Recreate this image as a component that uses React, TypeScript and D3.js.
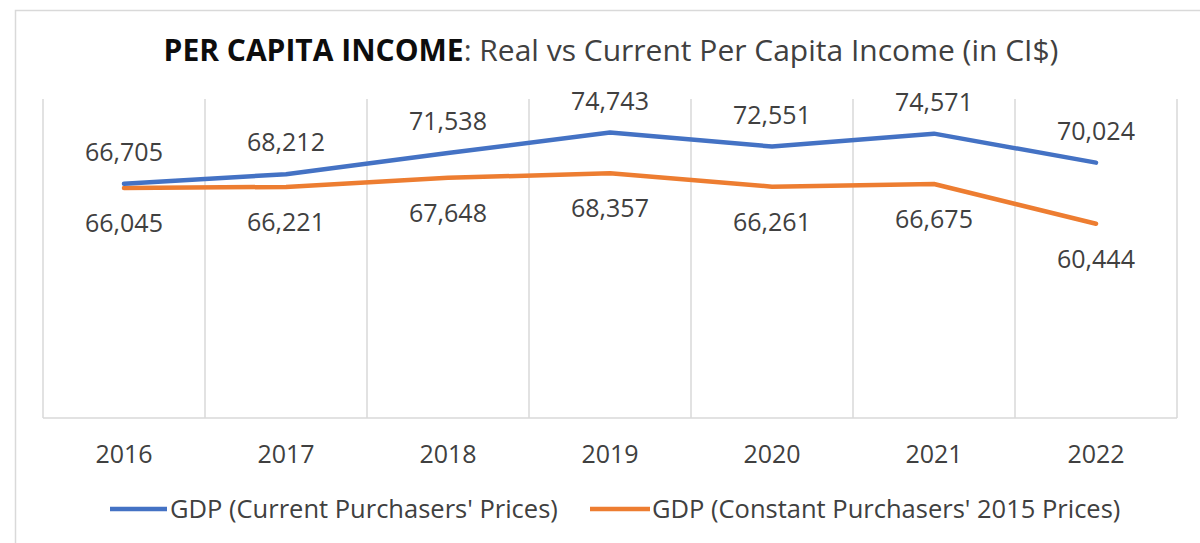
import { scaleBand, scaleLinear, line, format } from 'd3';

const years = ['2016', '2017', '2018', '2019', '2020', '2021', '2022'];
const currentPrices = [66705, 68212, 71538, 74743, 72551, 74571, 70024];
const constantPrices = [66045, 66221, 67648, 68357, 66261, 66675, 60444];
const seriesNames = ["GDP (Current Purchasers' Prices)", "GDP (Constant Purchasers' 2015 Prices)"];

const width = 1200;
const height = 543;
const plot = { left: 43, right: 1177, top: 99, bottom: 418 };
const blue = '#4472C4';
const orange = '#ED7D31';
const grid = '#d9d9d9';
const textColor = '#404040';
const font = "'Open Sans', sans-serif";

const App = () => {
    const xScale = scaleBand()
        .domain(years)
        .range([plot.left, plot.right]);

    const yScale = scaleLinear()
        .domain([30000, 80000])
        .range([plot.bottom, plot.top]);

    const cx = (year: string) => (xScale(year) as number) + xScale.bandwidth() / 2;
    const fmt = format(',');

    const makeLine = line<number>()
        .x((d, i) => cx(years[i]))
        .y(d => yScale(d));

    const gridXs = [...years.map(y => xScale(y) as number), plot.right];

    return (
        <svg
            width={width}
            height={height}
            style={{ position: 'absolute', left: 0, top: 0, background: '#fff' }}
            fontFamily={font}
        >
            <path d={`M15.5,${height} V10.5 H${width}`} fill="none" stroke={grid} strokeWidth={1.5} />

            <text x={611} y={61} textAnchor="middle" fontSize={30} fill={textColor}>
                <tspan fontWeight="bold" fill="#0d0d0d">PER CAPITA INCOME</tspan>
                <tspan>: Real vs Current Per Capita Income (in CI$)</tspan>
            </text>

            {gridXs.map((x, i) =>
                <line key={i} x1={x} x2={x} y1={plot.top} y2={plot.bottom} stroke={grid} strokeWidth={1.5} />
            )}
            <line x1={plot.left} x2={plot.right} y1={plot.bottom} y2={plot.bottom} stroke={grid} strokeWidth={1.5} />

            <path d={makeLine(constantPrices) || ''} fill="none" stroke={orange} strokeWidth={4.5} strokeLinejoin="round" strokeLinecap="round" />
            <path d={makeLine(currentPrices) || ''} fill="none" stroke={blue} strokeWidth={4.5} strokeLinejoin="round" strokeLinecap="round" />

            {currentPrices.map((v, i) =>
                <text key={'c' + i} x={cx(years[i])} y={yScale(v) - 32 + 9} textAnchor="middle" fontSize={25} fill={textColor}>{fmt(v)}</text>
            )}
            {constantPrices.map((v, i) =>
                <text key={'k' + i} x={cx(years[i])} y={yScale(v) + 35 + 9} textAnchor="middle" fontSize={25} fill={textColor}>{fmt(v)}</text>
            )}

            {years.map(y =>
                <text key={y} x={cx(y)} y={463} textAnchor="middle" fontSize={25} fill={textColor}>{y}</text>
            )}

            <g>
                <line x1={110} x2={167} y1={509} y2={509} stroke={blue} strokeWidth={4.5} />
                <text x={170} y={518} fontSize={25.5} fill={textColor}>{seriesNames[0]}</text>
                <line x1={590} x2={650} y1={509} y2={509} stroke={orange} strokeWidth={4.5} />
                <text x={652} y={518} fontSize={25.5} fill={textColor}>{seriesNames[1]}</text>
            </g>
        </svg>
    );
};

export default App;
